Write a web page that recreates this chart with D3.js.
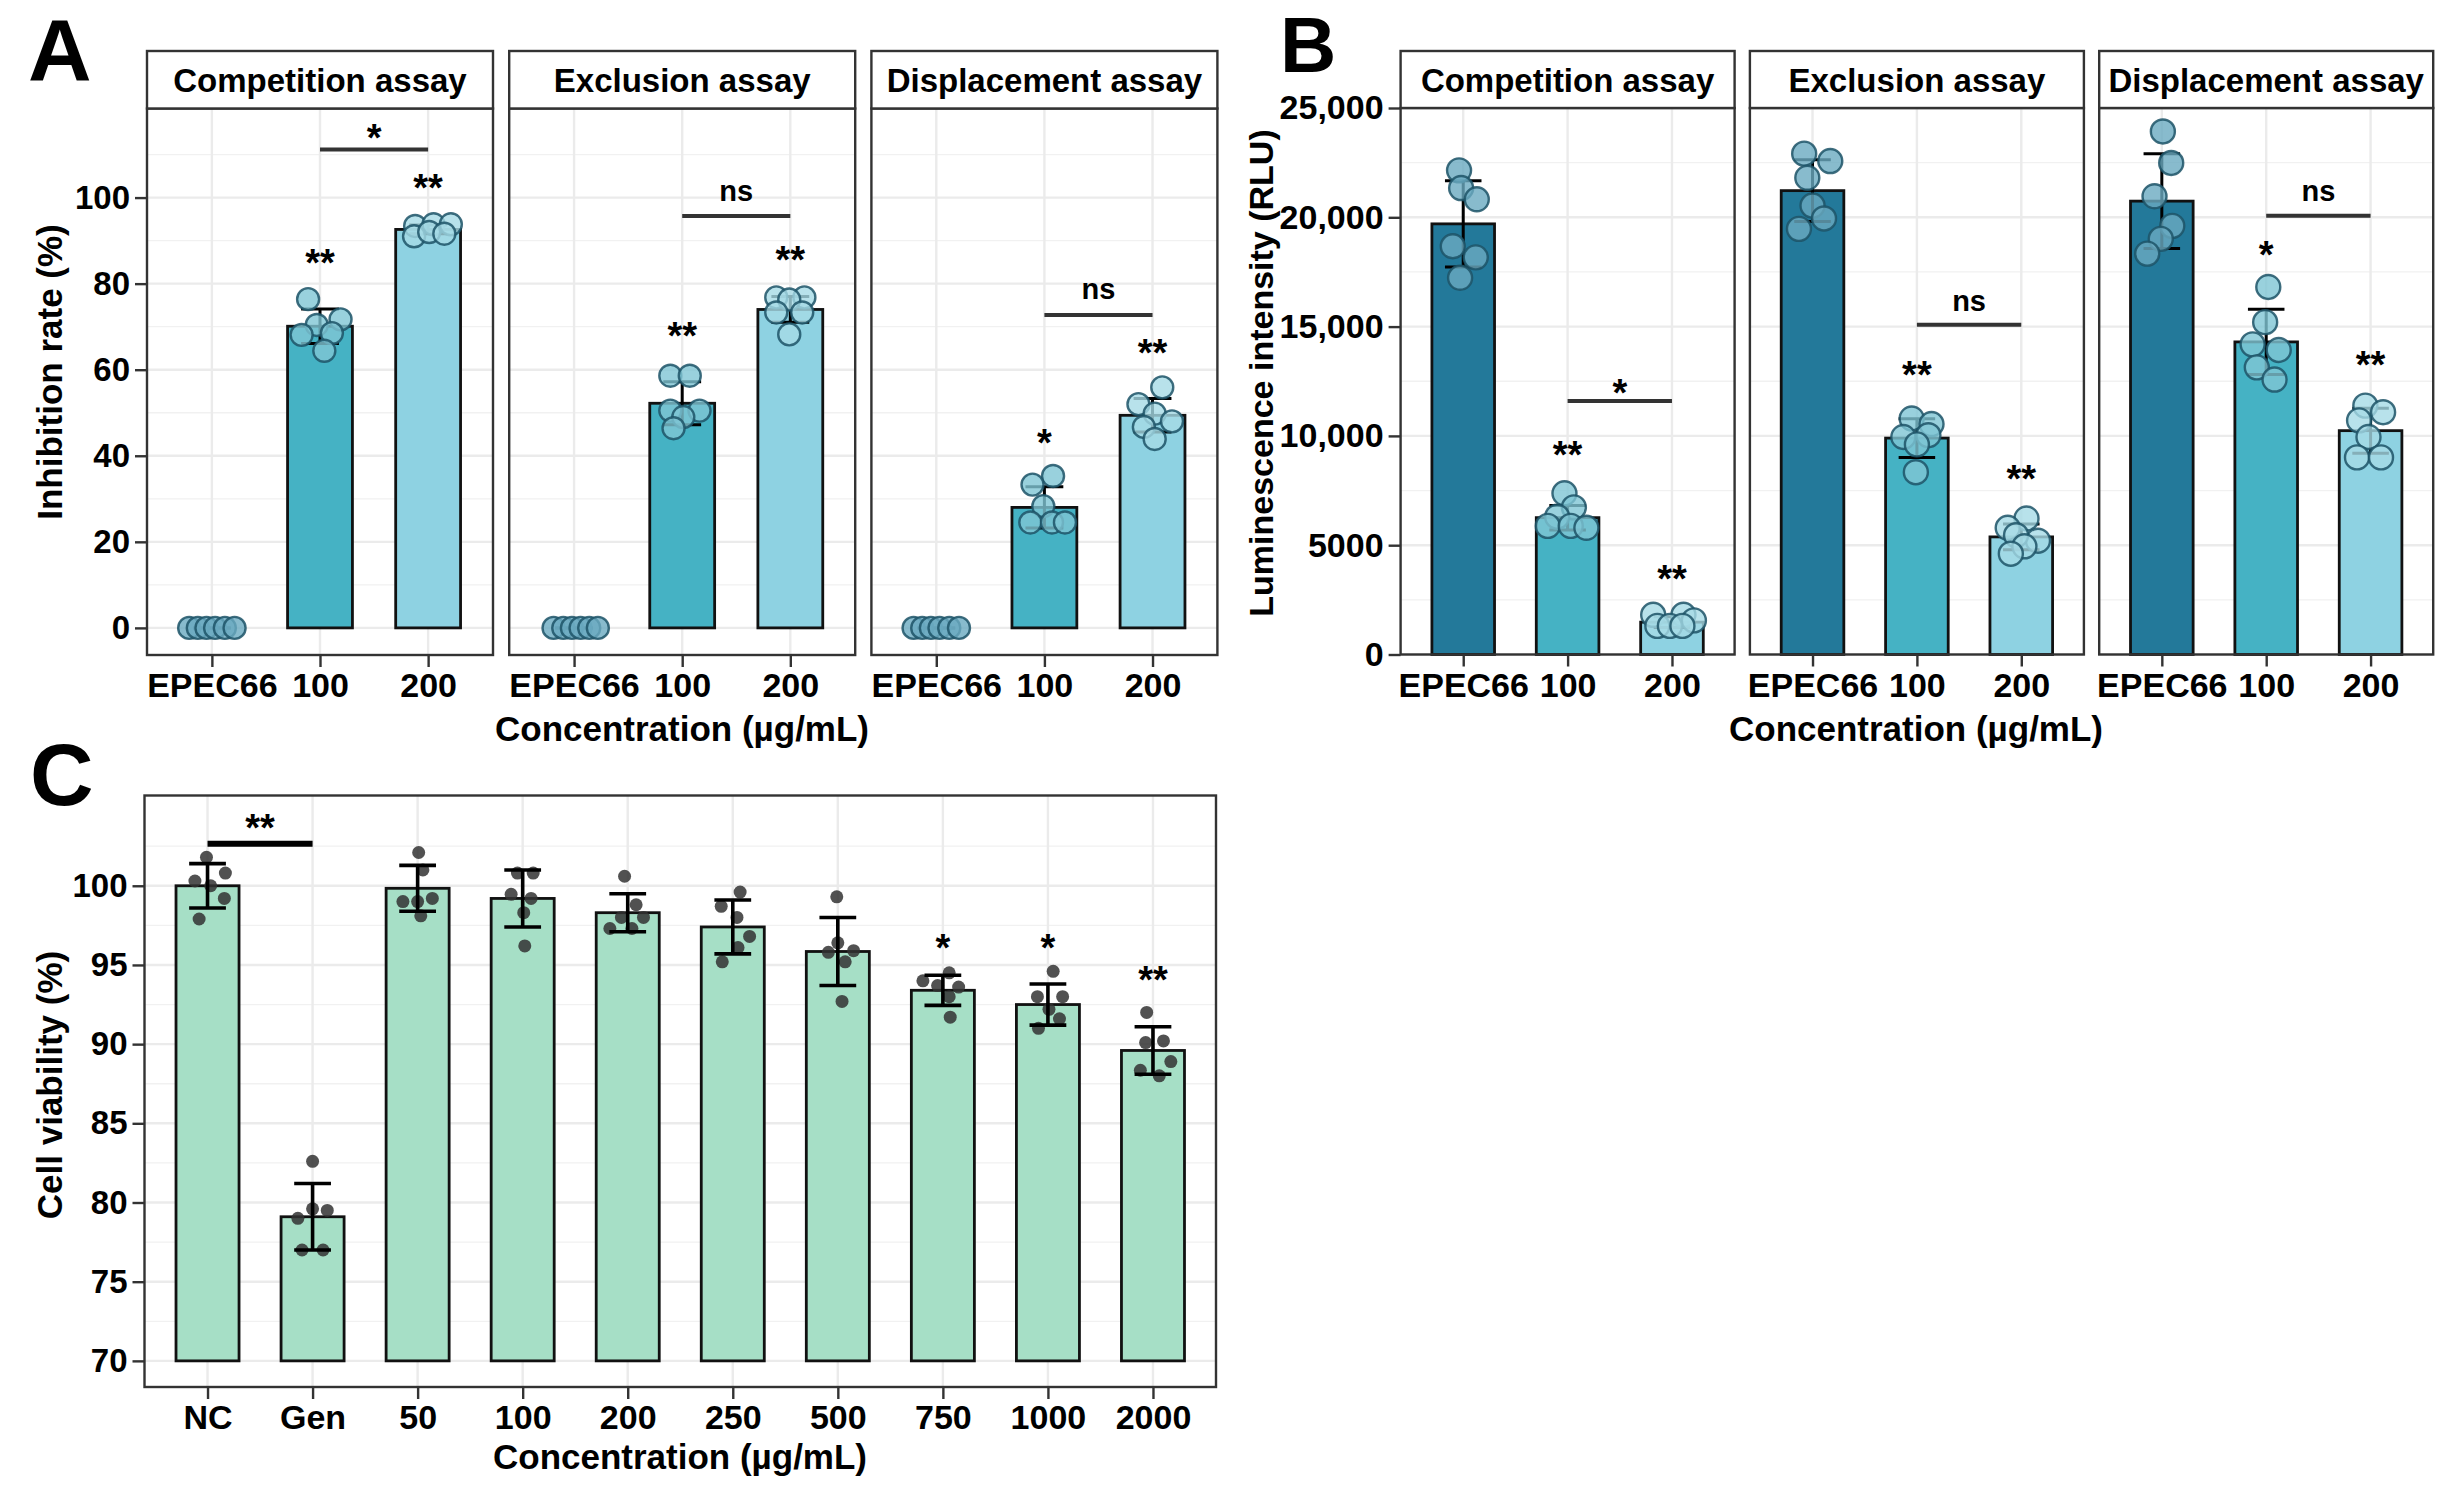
<!DOCTYPE html>
<html>
<head>
<meta charset="utf-8">
<script src="https://cdn.jsdelivr.net/npm/d3@7"></script>
<style>
  body { margin: 0; background: #fff; }
  svg { display: block; }
</style>
</head>
<body>
<svg id="chart"></svg>
<script>
// ---- data ----
const facets = ["Competition assay", "Exclusion assay", "Displacement assay"];
const groupsAB = ["EPEC66", "100", "200"];
const groupColors = ["#23799a", "#45b2c4", "#8ed2e2"];
const pointFills = ["#6aaac0", "#80c6d5", "#a6dbe6"];

// panel A: inhibition rate (%)
const inhibMean = [[0, 70.1, 92.6], [0, 52.2, 74.0], [0, 28.0, 49.4]];
const inhibSd = [[0, 4.0, 1.0], [0, 5.0, 3.0], [0, 4.8, 3.9]];
const inhibValues = [
  [[0, 0, 0, 0, 0, 0], [76.4, 71.7, 70.4, 68.1, 68.5, 64.4], [93.4, 93.8, 93.8, 91.0, 92.0, 91.6]],
  [[0, 0, 0, 0, 0, 0], [58.6, 58.6, 50.5, 50.5, 49.0, 46.4], [76.8, 76.8, 76.3, 73.3, 73.3, 68.2]],
  [[0, 0, 0, 0, 0, 0], [35.3, 33.3, 28.3, 24.5, 24.5, 24.5], [55.9, 52.0, 49.8, 48.0, 46.7, 43.9]]
];
const inhibJitter = [
  [[-0.21, -0.13, -0.05, 0.03, 0.12, 0.21], [-0.11, 0.19, -0.03, -0.17, 0.11, 0.04], [-0.12, 0.05, 0.21, -0.13, 0.01, 0.15]],
  [[-0.19, -0.1, -0.02, 0.06, 0.14, 0.22], [-0.11, 0.07, -0.11, 0.16, 0.01, -0.08], [-0.13, 0.13, -0.01, -0.13, 0.11, -0.01]],
  [[-0.21, -0.13, -0.05, 0.03, 0.12, 0.21], [0.08, -0.11, -0.01, -0.13, 0.07, 0.19], [0.09, -0.13, 0.02, 0.18, -0.08, 0.02]]
];
const inhibStars = [[null, "**", "**"], [null, "**", "**"], [null, "*", "**"]];
const inhibStarY = [[null, 86.7, 104.2], [null, 69.8, 87.4], [null, 44.9, 65.7]];
const inhibBracketY = [111.2, 95.7, 72.7];
const inhibBracketLabel = ["*", "ns", "ns"];
const inhibBracketLabelY = [115.8, 101.0, 78.3];

// panel B: luminescence intensity (RLU)
const lumMean = [[19700, 6260, 1480], [21220, 9900, 5380], [20740, 14300, 10240]];
const lumSd = [[1975, 560, 250], [1410, 890, 590], [2170, 1490, 1030]];
const lumValues = [
  [[22148, 21338, 20825, 18675, 18167, 17234], [7375, 6730, 6304, 5883, 5883, 5797], [1816, 1816, 1560, 1308, 1308, 1308]],
  [[22912, 22573, 21809, 20537, 19947, 19471], [10797, 10541, 9951, 10033, 9612, 8340], [6222, 5797, 5206, 5458, 4950, 4611]],
  [[23927, 22486, 20963, 19608, 19014, 18337], [16813, 15203, 14187, 13931, 13135, 12577], [11387, 11085, 10710, 9951, 9017, 9017]]
];
const lumJitter = [
  [[-0.04, -0.02, 0.13, -0.1, 0.12, -0.03], [-0.03, 0.06, -0.1, -0.19, 0.03, 0.18], [-0.18, 0.11, 0.21, -0.14, -0.02, 0.1]],
  [[-0.08, 0.17, -0.05, 0, 0.11, -0.13], [-0.05, 0.14, -0.13, 0.11, 0, -0.01], [0.05, -0.13, 0.16, -0.05, 0.03, -0.1]],
  [[0.01, 0.09, -0.07, 0.1, -0.01, -0.14], [0.02, -0.01, -0.13, 0.12, -0.09, 0.08], [-0.05, 0.12, -0.11, -0.02, -0.13, 0.1]]
];
const lumStars = [[null, "**", "**"], [null, "**", "**"], [null, "*", "**"]];
const lumStarY = [[null, 9525, 3848], [null, 13167, 8423], [null, 18675, 13624]];
const lumBracketY = [11593, 15084, 20066];
const lumBracketLabel = ["*", "ns", "ns"];
const lumBracketLabelY = [12321, 16081, 21100];

// panel C: cell viability (%)
const viabGroups = ["NC", "Gen", "50", "100", "200", "250", "500", "750", "1000", "2000"];
const viabMean = [100.0, 79.1, 99.84, 99.2, 98.3, 97.4, 95.85, 93.4, 92.5, 89.6];
const viabSd = [1.4, 2.1, 1.45, 1.8, 1.2, 1.7, 2.15, 0.95, 1.3, 1.5];
const viabValues = [
  [101.8, 100.8, 100.3, 100.0, 99.2, 97.9], [82.6, 79.6, 79.5, 79.0, 77.0, 77.0],
  [102.1, 101.0, 99.0, 99.0, 99.2, 98.1], [100.8, 100.8, 99.46, 99.2, 98.3, 96.2],
  [100.6, 98.8, 98.0, 98.0, 97.3, 97.3], [99.6, 98.7, 98.0, 96.8, 96.1, 95.2],
  [99.3, 96.4, 95.8, 95.9, 95.2, 92.7], [94.5, 94.0, 93.7, 93.6, 93.0, 91.7],
  [94.6, 93.0, 93.0, 92.2, 91.6, 91.0], [92.0, 90.1, 90.2, 88.9, 88.35, 88.0]
];
const viabJitter = [
  [-0.01, 0.17, -0.12, 0.03, 0.16, -0.08], [0, 0, 0.14, -0.14, -0.1, 0.1],
  [0.01, 0.05, -0.14, 0, 0.14, 0.03], [-0.05, 0.1, -0.11, 0.08, 0.01, 0.02],
  [-0.03, 0.08, -0.06, 0.15, -0.17, 0.04], [0.07, -0.11, 0.04, 0.16, 0.05, -0.1],
  [-0.01, 0, -0.09, 0.15, 0.07, 0.04], [0.06, -0.19, -0.05, 0.15, 0.06, 0.07],
  [0.05, -0.1, 0.14, 0.01, 0.11, -0.09], [-0.06, -0.07, 0.1, 0.17, -0.12, 0.06]
];
const viabStars = [null, null, null, null, null, null, null, "*", "*", "**"];
const viabStarY = [null, null, null, null, null, null, null, 96.6, 96.6, 94.6];
const viabBracket = ["NC", "Gen"];
const viabBracketY = 102.66;
const viabBracketLabelY = 104.2;

const inhibTicks = [0, 20, 40, 60, 80, 100];
const inhibMinor = [10, 30, 50, 70, 90, 110];
const lumTicks = [0, 5000, 10000, 15000, 20000, 25000];
const lumMinor = [2500, 7500, 12500, 17500, 22500];
const viabTicks = [70, 75, 80, 85, 90, 95, 100];
const viabMinor = [72.5, 77.5, 82.5, 87.5, 92.5, 97.5, 102.5];

// ---- setup ----
const W = 2458, H = 1488;
const FONT = '"Liberation Sans", Arial, Helvetica, sans-serif';
const svg = d3.select("#chart").attr("width", W).attr("height", H);
svg.append("rect").attr("width", W).attr("height", H).attr("fill", "#fff");

function addText(parent, x, y, str, size, anchor, rotate) {
  return parent.append("text")
    .attr("x", x).attr("y", y).text(str)
    .attr("font-family", FONT).attr("font-weight", "bold")
    .attr("font-size", size).attr("fill", "#000")
    .attr("text-anchor", anchor || "middle")
    .attr("transform", rotate ? `rotate(${rotate},${x},${y})` : null);
}

// significance label centred (visually) at yPix
function sigLabel(g, x, yPix, label) {
  const star = label.indexOf("*") >= 0;
  const fs = star ? 38 : 29;
  addText(g, x, yPix + (star ? 0.56 : 0.27) * fs, label, fs);
}

function styleAxis(ax, fs) {
  ax.select(".domain").remove();
  ax.attr("font-family", FONT).attr("font-size", fs).attr("font-weight", "bold");
  ax.selectAll("line").attr("stroke", "#333").attr("stroke-width", 2.4);
  ax.selectAll("text").attr("fill", "#000");
}

function drawPanel(cfg) {
  const g = svg.append("g");
  const left = cfg.x0, right = cfg.x0 + cfg.w;
  const x = d3.scalePoint().domain(cfg.groups).range([left, right]).padding(0.6);
  const step = x.step();
  const y = cfg.y;
  const [bottom, top] = y.range();

  // grid
  g.selectAll("line.minor").data(cfg.minors).join("line").attr("class", "minor")
    .attr("x1", left).attr("x2", right).attr("y1", d => y(d)).attr("y2", d => y(d))
    .attr("stroke", "#f1f1f1").attr("stroke-width", 1.3);
  g.selectAll("line.major").data(cfg.ticks).join("line").attr("class", "major")
    .attr("x1", left).attr("x2", right).attr("y1", d => y(d)).attr("y2", d => y(d))
    .attr("stroke", "#ebebeb").attr("stroke-width", 2.4);
  g.selectAll("line.vmajor").data(cfg.groups).join("line").attr("class", "vmajor")
    .attr("x1", d => x(d)).attr("x2", d => x(d)).attr("y1", top).attr("y2", bottom)
    .attr("stroke", "#ebebeb").attr("stroke-width", 2.4);

  // bars
  g.selectAll("rect.bar").data(cfg.groups).join("rect").attr("class", "bar")
    .attr("x", d => x(d) - 0.3 * step).attr("width", 0.6 * step)
    .attr("y", (d, i) => y(cfg.means[i]))
    .attr("height", (d, i) => y(cfg.base) - y(cfg.means[i]))
    .attr("fill", (d, i) => cfg.fills[i])
    .attr("stroke", "#111").attr("stroke-width", 2.8);

  const errs = cfg.groups.map((d, i) => ({ cx: x(d), hi: cfg.means[i] + cfg.sds[i], lo: cfg.means[i] - cfg.sds[i] }));
  const pts = [];
  cfg.groups.forEach((d, i) => {
    cfg.values[i].forEach((v, j) => pts.push({ cx: x(d) + cfg.jitter[i][j] * step, v: v, gi: i }));
  });

  function drawErr() {
    const eg = g.append("g").attr("stroke", "#000").attr("stroke-width", cfg.errWidth);
    eg.selectAll("line.ev").data(errs).join("line").attr("class", "ev")
      .attr("x1", d => d.cx).attr("x2", d => d.cx).attr("y1", d => y(d.hi)).attr("y2", d => y(d.lo));
    eg.selectAll("line.eh").data(errs).join("line").attr("class", "eh")
      .attr("x1", d => d.cx - 0.175 * step).attr("x2", d => d.cx + 0.175 * step)
      .attr("y1", d => y(d.hi)).attr("y2", d => y(d.hi));
    eg.selectAll("line.el").data(errs).join("line").attr("class", "el")
      .attr("x1", d => d.cx - 0.175 * step).attr("x2", d => d.cx + 0.175 * step)
      .attr("y1", d => y(d.lo)).attr("y2", d => y(d.lo));
  }
  function drawPts() {
    g.selectAll("circle.pt").data(pts).join("circle").attr("class", "pt")
      .attr("cx", d => d.cx).attr("cy", d => y(d.v)).attr("r", cfg.r)
      .attr("fill", d => cfg.ptFill(d.gi)).attr("fill-opacity", cfg.ptOpacity)
      .attr("stroke", cfg.ptStroke).attr("stroke-opacity", 0.85)
      .attr("stroke-width", cfg.ptStroke === "none" ? 0 : 2.4);
  }
  if (cfg.pointsFirst) { drawPts(); drawErr(); } else { drawErr(); drawPts(); }

  // significance marks
  cfg.stars.forEach((s, i) => { if (s) sigLabel(g, x(cfg.groups[i]), y(cfg.starY[i]), s); });
  const b0 = x(cfg.bracket[0]), b1 = x(cfg.bracket[1]);
  g.append("line").attr("x1", b0).attr("x2", b1)
    .attr("y1", y(cfg.bracketY)).attr("y2", y(cfg.bracketY))
    .attr("stroke", cfg.bracketColor).attr("stroke-width", cfg.bracketWidth);
  sigLabel(g, (b0 + b1) / 2, y(cfg.bracketLabelY), cfg.bracketLabel);

  // border
  g.append("rect").attr("x", left).attr("y", top).attr("width", cfg.w).attr("height", bottom - top)
    .attr("fill", "none").attr("stroke", "#333").attr("stroke-width", 2.4);

  // x axis
  const xa = g.append("g").attr("transform", `translate(0,${bottom})`)
    .call(d3.axisBottom(x).tickSize(12).tickPadding(6));
  styleAxis(xa, 34);

  // y axis
  if (cfg.showY) {
    const ya = g.append("g").attr("transform", `translate(${left},0)`)
      .call(d3.axisLeft(y).tickValues(cfg.ticks).tickFormat(cfg.fmt).tickSize(12).tickPadding(5));
    styleAxis(ya, cfg.yFs || 33);
  }

  // strip
  if (cfg.title) {
    g.append("rect").attr("x", left).attr("y", 51).attr("width", cfg.w).attr("height", top - 51)
      .attr("fill", "#fff").attr("stroke", "#333").attr("stroke-width", 2.4);
    addText(g, (left + right) / 2, 92, cfg.title, 33);
  }
}

// ---- panel A ----
const yA = d3.scaleLinear().domain([-6.3, 120.7]).range([655, 108.5]);
facets.forEach((f, k) => {
  drawPanel({
    x0: 147 + k * 362.2, w: 346, y: yA, groups: groupsAB, title: f, showY: k === 0,
    ticks: inhibTicks, minors: inhibMinor, fmt: d3.format("d"),
    means: inhibMean[k], sds: inhibSd[k], base: 0, fills: groupColors,
    values: inhibValues[k], jitter: inhibJitter[k], r: 11,
    ptFill: i => pointFills[i], ptOpacity: 0.8, ptStroke: "#1d5367", errWidth: 3,
    stars: inhibStars[k], starY: inhibStarY[k],
    bracket: ["100", "200"], bracketY: inhibBracketY[k],
    bracketLabel: inhibBracketLabel[k], bracketLabelY: inhibBracketLabelY[k],
    bracketColor: "#333", bracketWidth: 4
  });
});

// ---- panel B ----
const yB = d3.scaleLinear().domain([0, 25000]).range([654.5, 108]);
const lumFmt = d => d < 10000 ? String(d) : d3.format(",")(d);
facets.forEach((f, k) => {
  drawPanel({
    x0: 1400.6 + k * 349.3, w: 334, y: yB, groups: groupsAB, title: f, showY: k === 0,
    ticks: lumTicks, minors: lumMinor, fmt: lumFmt, yFs: 34,
    means: lumMean[k], sds: lumSd[k], base: 0, fills: groupColors,
    values: lumValues[k], jitter: lumJitter[k], r: 12,
    ptFill: i => pointFills[i], ptOpacity: 0.8, ptStroke: "#1d5367", errWidth: 3,
    stars: lumStars[k], starY: lumStarY[k],
    bracket: ["100", "200"], bracketY: lumBracketY[k],
    bracketLabel: lumBracketLabel[k], bracketLabelY: lumBracketLabelY[k],
    bracketColor: "#333", bracketWidth: 4
  });
});

// ---- panel C ----
const yC = d3.scaleLinear().domain([68.35, 105.7]).range([1387, 795.5]);
drawPanel({
  x0: 144.5, w: 1071.5, y: yC, groups: viabGroups, title: null, showY: true,
  ticks: viabTicks, minors: viabMinor, fmt: d3.format("d"),
  means: viabMean, sds: viabSd, base: 70, fills: viabGroups.map(() => "#a6dfc6"),
  values: viabValues, jitter: viabJitter, r: 6.5,
  ptFill: () => "#333", ptOpacity: 0.85, ptStroke: "none", errWidth: 3.6, pointsFirst: true,
  stars: viabStars, starY: viabStarY,
  bracket: viabBracket, bracketY: viabBracketY, bracketLabel: "**", bracketLabelY: viabBracketLabelY,
  bracketColor: "#000", bracketWidth: 6
});

// ---- titles and panel letters ----
addText(svg, 682, 741, "Concentration (µg/mL)", 35);
addText(svg, 1916, 741, "Concentration (µg/mL)", 35);
addText(svg, 680, 1469, "Concentration (µg/mL)", 35);
addText(svg, 62, 372, "Inhibition rate (%)", 35, "middle", -90);
addText(svg, 1273, 373, "Luminescence intensity (RLU)", 34, "middle", -90);
addText(svg, 62, 1085, "Cell viability (%)", 35, "middle", -90);
addText(svg, 28, 80, "A", 88, "start");
addText(svg, 1280, 72, "B", 78, "start");
addText(svg, 30, 805, "C", 88, "start");
</script>
</body>
</html>
